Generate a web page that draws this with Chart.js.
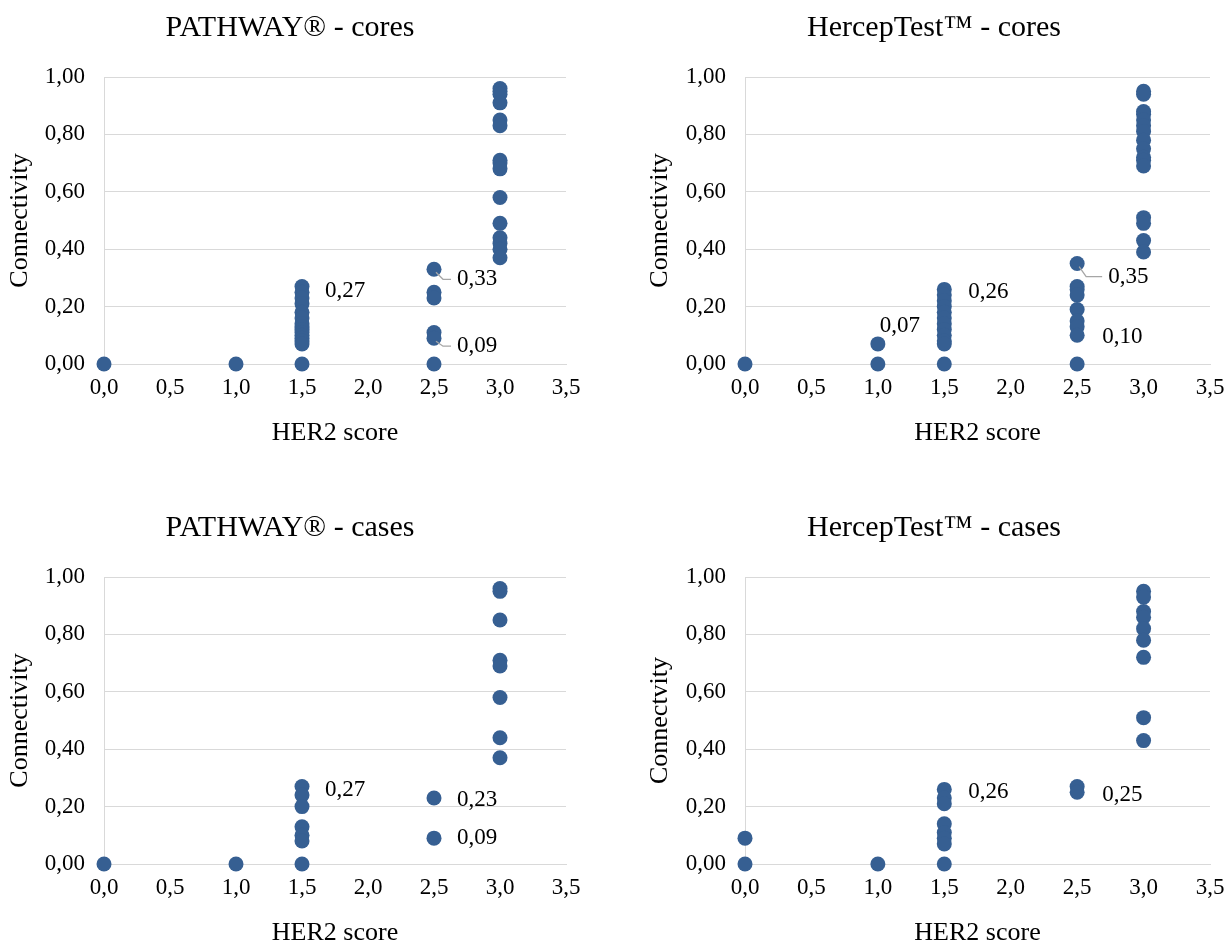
<!DOCTYPE html>
<html>
<head>
<meta charset="utf-8">
<script src="https://cdn.jsdelivr.net/npm/chart.js@4/dist/chart.umd.min.js"></script>
<style>
  html, body { margin: 0; padding: 0; background: #fff; }
  body { width: 1227px; height: 942px; position: relative; overflow: hidden; }
  .panel { position: absolute; }
</style>
</head>
<body>
<div class="panel" style="left:0px;top:0px;"><canvas id="c1" width="585" height="454"></canvas></div>
<div class="panel" style="left:640px;top:0px;"><canvas id="c2" width="587" height="454"></canvas></div>
<div class="panel" style="left:0px;top:500px;"><canvas id="c3" width="585" height="454"></canvas></div>
<div class="panel" style="left:640px;top:500px;"><canvas id="c4" width="587" height="454"></canvas></div>
<script>
// ---------- DATA ----------
const xTicks = [0, 0.5, 1.0, 1.5, 2.0, 2.5, 3.0, 3.5];
const yTicks = [0, 0.2, 0.4, 0.6, 0.8, 1.0];

// PATHWAY® - cores
const pathwayCoresX = [0, 1.0,
  1.5,1.5,1.5,1.5,1.5,1.5,1.5,1.5,1.5,1.5,1.5,1.5,1.5,1.5,1.5,
  2.5,2.5,2.5,2.5,2.5,2.5,
  3.0,3.0,3.0,3.0,3.0,3.0,3.0,3.0,3.0,3.0,3.0,3.0,3.0,3.0,3.0];
const pathwayCoresY = [0, 0,
  0.27,0.25,0.23,0.21,0.18,0.16,0.14,0.13,0.12,0.11,0.10,0.09,0.08,0.07,0,
  0.33,0.25,0.23,0.11,0.09,0,
  0.96,0.95,0.94,0.91,0.85,0.83,0.71,0.70,0.68,0.58,0.49,0.44,0.42,0.40,0.37];
const pathwayCoresLabels = [[1.5, 0.27], [2.5, 0.33], [2.5, 0.09]];

// HercepTest™ - cores
const hercepCoresX = [0, 1.0, 1.0,
  1.5,1.5,1.5,1.5,1.5,1.5,1.5,1.5,1.5,1.5,1.5,1.5,
  2.5,2.5,2.5,2.5,2.5,2.5,2.5,2.5,2.5,
  3.0,3.0,3.0,3.0,3.0,3.0,3.0,3.0,3.0,3.0,3.0,3.0,3.0,3.0,3.0,3.0];
const hercepCoresY = [0, 0.07, 0,
  0.26,0.24,0.22,0.20,0.18,0.16,0.14,0.12,0.10,0.08,0.07,0,
  0.35,0.27,0.26,0.24,0.19,0.15,0.13,0.10,0,
  0.95,0.94,0.88,0.87,0.85,0.83,0.81,0.78,0.75,0.72,0.71,0.69,0.51,0.49,0.43,0.39];
const hercepCoresLabels = [[1.0, 0.07], [1.5, 0.26], [2.5, 0.35], [2.5, 0.10]];

// PATHWAY® - cases
const pathwayCasesX = [0, 1.0,
  1.5,1.5,1.5,1.5,1.5,1.5,1.5,
  2.5,2.5,
  3.0,3.0,3.0,3.0,3.0,3.0,3.0,3.0];
const pathwayCasesY = [0, 0,
  0.27,0.24,0.20,0.13,0.10,0.08,0,
  0.23,0.09,
  0.96,0.95,0.85,0.71,0.69,0.58,0.44,0.37];
const pathwayCasesLabels = [[1.5, 0.27], [2.5, 0.23], [2.5, 0.09]];

// HercepTest™ - cases
const hercepCasesX = [0, 0, 1.0,
  1.5,1.5,1.5,1.5,1.5,1.5,1.5,1.5,
  2.5,2.5,
  3.0,3.0,3.0,3.0,3.0,3.0,3.0,3.0,3.0];
const hercepCasesY = [0.09, 0, 0,
  0.26,0.23,0.21,0.14,0.11,0.09,0.07,0,
  0.27,0.25,
  0.95,0.93,0.88,0.86,0.82,0.78,0.72,0.51,0.43];
const hercepCasesLabels = [[1.5, 0.26], [2.5, 0.25]];

// ---------- RENDERING ----------
const FONT = '"Liberation Serif", "Times New Roman", serif';
const POINT_COLOR = '#365F92';
const GRID = '#d9d9d9';

function fmt(v, d) { return v.toFixed(d).replace('.', ','); }

const valueLabels = {
  id: 'valueLabels',
  afterLayout(chart, args, opts) {
    if (chart.titleBlock && opts.titleShift) {
      chart.titleBlock.left += opts.titleShift;
      chart.titleBlock.right += opts.titleShift;
    }
  },
  afterDatasetsDraw(chart, args, opts) {
    const ctx = chart.ctx;
    const xs = chart.scales.x, ys = chart.scales.y;
    ctx.save();
    ctx.font = '23px ' + FONT;
    ctx.fillStyle = '#000';
    ctx.textBaseline = 'middle';
    ctx.textAlign = 'left';
    (opts.points || []).forEach((p, i) => {
      const off = opts.offsets[i];
      const px = xs.getPixelForValue(p[0]);
      const py = ys.getPixelForValue(p[1]);
      const lx = px + off[0], ly = py + off[1];
      if (off[2]) {
        ctx.strokeStyle = '#a6a6a6';
        ctx.lineWidth = 1.3;
        ctx.beginPath();
        ctx.moveTo(px + 2, py + 3);
        ctx.lineTo(px + 9, ly);
        ctx.lineTo(lx - 6, ly);
        ctx.stroke();
      }
      ctx.fillText(fmt(p[1], 2), lx, ly);
    });
    ctx.restore();
  }
};

function makeChart(id, title, yTitle, xs, ys, labelPts, offsets, yAxisWidth, padRight, titleShift) {
  const data = xs.map((x, i) => ({ x: x, y: ys[i] }));
  return new Chart(document.getElementById(id), {
    type: 'scatter',
    data: {
      datasets: [{
        data: data,
        backgroundColor: POINT_COLOR,
        borderColor: POINT_COLOR,
        borderWidth: 0,
        pointRadius: 7.5,
        pointHoverRadius: 7.5,
        clip: false
      }]
    },
    options: {
      responsive: false,
      animation: false,
      devicePixelRatio: 1,
      events: [],
      layout: { padding: { left: 0, right: padRight, top: 0, bottom: 0 } },
      plugins: {
        legend: { display: false },
        tooltip: { enabled: false },
        title: {
          display: true,
          text: title,
          color: '#000',
          font: { family: FONT, size: 30, weight: 'normal' },
          padding: { top: 10, bottom: 31 }
        },
        valueLabels: { points: labelPts, offsets: offsets, titleShift: titleShift }
      },
      scales: {
        x: {
          type: 'linear',
          min: 0, max: 3.5,
          afterBuildTicks: s => { s.ticks = xTicks.map(v => ({ value: v })); },
          afterFit: s => { s.height = 90; s.paddingLeft = 0; s.paddingRight = 0; },
          grid: { display: false, drawTicks: false },
          border: { display: true, color: GRID, width: 1 },
          ticks: {
            color: '#000',
            padding: 10,
            maxRotation: 0,
            font: { family: FONT, size: 23 },
            callback: v => fmt(v, 1)
          },
          title: {
            display: true,
            text: 'HER2 score',
            color: '#000',
            font: { family: FONT, size: 26 },
            padding: { top: 0, bottom: 5 }
          }
        },
        y: {
          type: 'linear',
          min: 0, max: 1,
          afterBuildTicks: s => { s.ticks = yTicks.map(v => ({ value: v })); },
          afterFit: s => { s.width = yAxisWidth; },
          grid: { color: GRID, lineWidth: 1, drawTicks: false },
          border: { display: true, color: GRID, width: 1 },
          ticks: {
            color: '#000',
            padding: 19,
            font: { family: FONT, size: 23 },
            callback: v => fmt(v, 2)
          },
          title: {
            display: true,
            text: yTitle,
            color: '#000',
            font: { family: FONT, size: 26 },
            padding: { top: 5, bottom: 0 }
          }
        }
      }
    },
    plugins: [valueLabels]
  });
}

makeChart('c1', 'PATHWAY® - cores', 'Connectivity', pathwayCoresX, pathwayCoresY,
  pathwayCoresLabels, [[23, 4, false], [23, 10, true], [23, 8, true]], 104, 19, 7);
makeChart('c2', 'HercepTest™ - cores', 'Connectivity', hercepCoresX, hercepCoresY,
  hercepCoresLabels, [[2, -18, false], [24, 3, false], [31, 13, true], [25, 2, false]], 105, 17, 9);
makeChart('c3', 'PATHWAY® - cases', 'Connectivity', pathwayCasesX, pathwayCasesY,
  pathwayCasesLabels, [[23, 3, false], [23, 2, false], [23, 0, false]], 104, 19, 7);
makeChart('c4', 'HercepTest™ - cases', 'Connectvity', hercepCasesX, hercepCasesY,
  hercepCasesLabels, [[24, 3, false], [25, 3, false]], 105, 17, 9);
</script>
</body>
</html>
